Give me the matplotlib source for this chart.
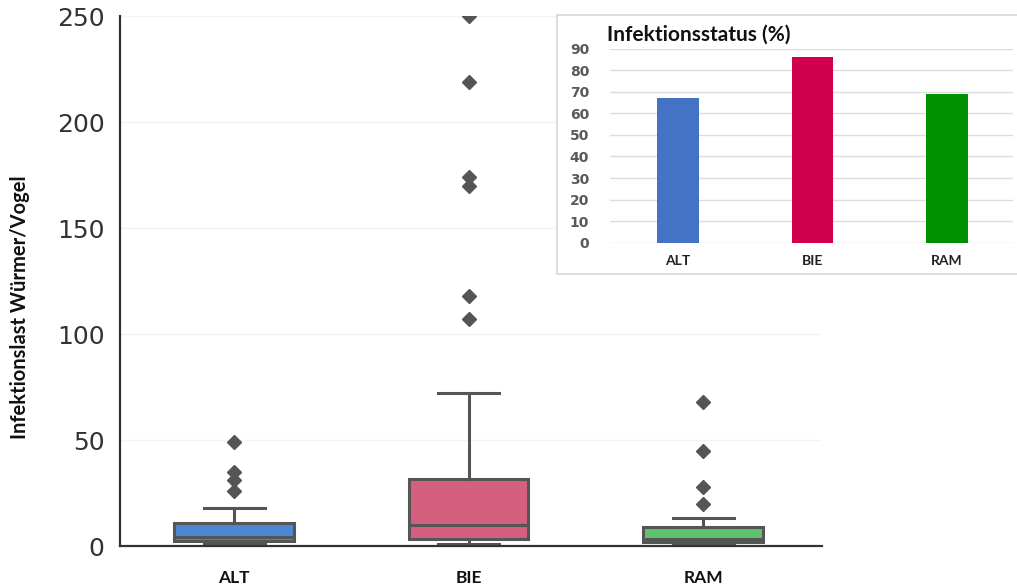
import matplotlib
matplotlib.use("Agg")
import matplotlib.pyplot as plt
from matplotlib.patches import Rectangle

# ---------------- data ----------------
gruppen = ["ALT", "BIE", "RAM"]

# box statistics (worms per bird)
whisker_unten = [1.5, 1.0, 1.0]
q1 = [2.4, 3.5, 1.7]
median = [4.3, 10.0, 3.3]
q3 = [11.0, 31.7, 9.1]
whisker_oben = [18.0, 72.0, 13.0]
ausreisser = [
    [26, 31, 35, 49],
    [107, 118, 170, 174, 219, 250],
    [20, 28, 45, 68],
]

# inset: infection status in percent
infektionsstatus = [67, 86, 69]

box_farben = ["#4a88d3", "#d45f7e", "#5dc46d"]
bar_farben = ["#4472c4", "#d1004f", "#009100"]

W, H = 1017, 584
fig = plt.figure(figsize=(W / 100, H / 100), dpi=100)
fig.patch.set_facecolor("white")

# ---------------- main boxplot ----------------
ax = fig.add_axes([120 / W, 1 - 546 / H, (822 - 120) / W, (546 - 16) / H])

stats = []
for i, g in enumerate(gruppen):
    stats.append({
        "label": g,
        "whislo": whisker_unten[i], "q1": q1[i], "med": median[i],
        "q3": q3[i], "whishi": whisker_oben[i], "fliers": ausreisser[i],
    })

edge = "#555555"
bp = ax.bxp(stats, positions=range(len(gruppen)), widths=0.51,
            patch_artist=True, showfliers=True,
            boxprops=dict(edgecolor=edge, linewidth=2.2),
            medianprops=dict(color=edge, linewidth=2.2),
            whiskerprops=dict(color=edge, linewidth=2.2),
            capprops=dict(color=edge, linewidth=2.2),
            capwidths=0.26,
            flierprops=dict(marker="D", markerfacecolor=edge,
                            markeredgecolor=edge, markersize=7))
for patch, c in zip(bp["boxes"], box_farben):
    patch.set_facecolor(c)
for fl in bp["fliers"]:
    fl.set_clip_on(True)

ax.set_xlim(-0.487, 2.507)
ax.set_ylim(0, 250)
ax.set_yticks([0, 50, 100, 150, 200, 250])
ax.grid(axis="y", color="#f3f3f3", linewidth=1)
ax.set_axisbelow(True)
for s in ["top", "right"]:
    ax.spines[s].set_visible(False)
for s in ["left", "bottom"]:
    ax.spines[s].set_color("#333333")
    ax.spines[s].set_linewidth(1.6)
ax.tick_params(axis="y", length=0, pad=11, labelsize=18, labelcolor="#333333")
ax.tick_params(axis="x", length=0, pad=17)
ax.set_xticks(range(len(gruppen)))
ax.set_xticklabels(gruppen, fontfamily="Lato", fontweight="bold", fontsize=12.5,
                   color="#111111")

fig.text(20 / W, 1 - 307 / H, "Infektionslast Würmer/Vogel", rotation=90,
         ha="center", va="center", fontfamily="Lato", fontweight="bold",
         fontsize=14.5, color="#111111")

# ---------------- inset bar chart ----------------
# white panel with a light frame, running off the right edge of the image
fig.add_artist(Rectangle((557 / W, 1 - 274 / H), (W + 60 - 557) / W, (274 - 15) / H,
                         transform=fig.transFigure, facecolor="white",
                         edgecolor="#d6d6d6", linewidth=1.2, zorder=2))

axi = fig.add_axes([610 / W, 1 - 242.7 / H, (1013 - 610) / W, (242.7 - 48.7) / H])
axi.set_zorder(3)
axi.set_facecolor("none")
axi.bar(range(len(gruppen)), infektionsstatus, width=0.31, color=bar_farben,
        zorder=3)
axi.set_xlim(-0.506, 2.49)
axi.set_ylim(0, 90)
axi.set_yticks(range(0, 91, 10))
axi.grid(axis="y", color="#dddddd", linewidth=1)
axi.set_axisbelow(True)
for s in axi.spines.values():
    s.set_visible(False)
axi.tick_params(axis="y", length=0, pad=15, labelsize=10, labelcolor="#5a5a5a")
for t in axi.get_yticklabels():
    t.set_fontweight("bold")
axi.tick_params(axis="x", length=0, pad=9)
axi.set_xticks(range(len(gruppen)))
axi.set_xticklabels(gruppen, fontfamily="Lato", fontweight="bold", fontsize=10,
                    color="#222222")

fig.text(607 / W, 1 - 35 / H, "Infektionsstatus (%)", ha="left", va="center",
         fontfamily="Lato", fontweight="bold", fontsize=15, color="#111111",
         zorder=4)

fig.savefig("out.png", dpi=100, facecolor="white")
